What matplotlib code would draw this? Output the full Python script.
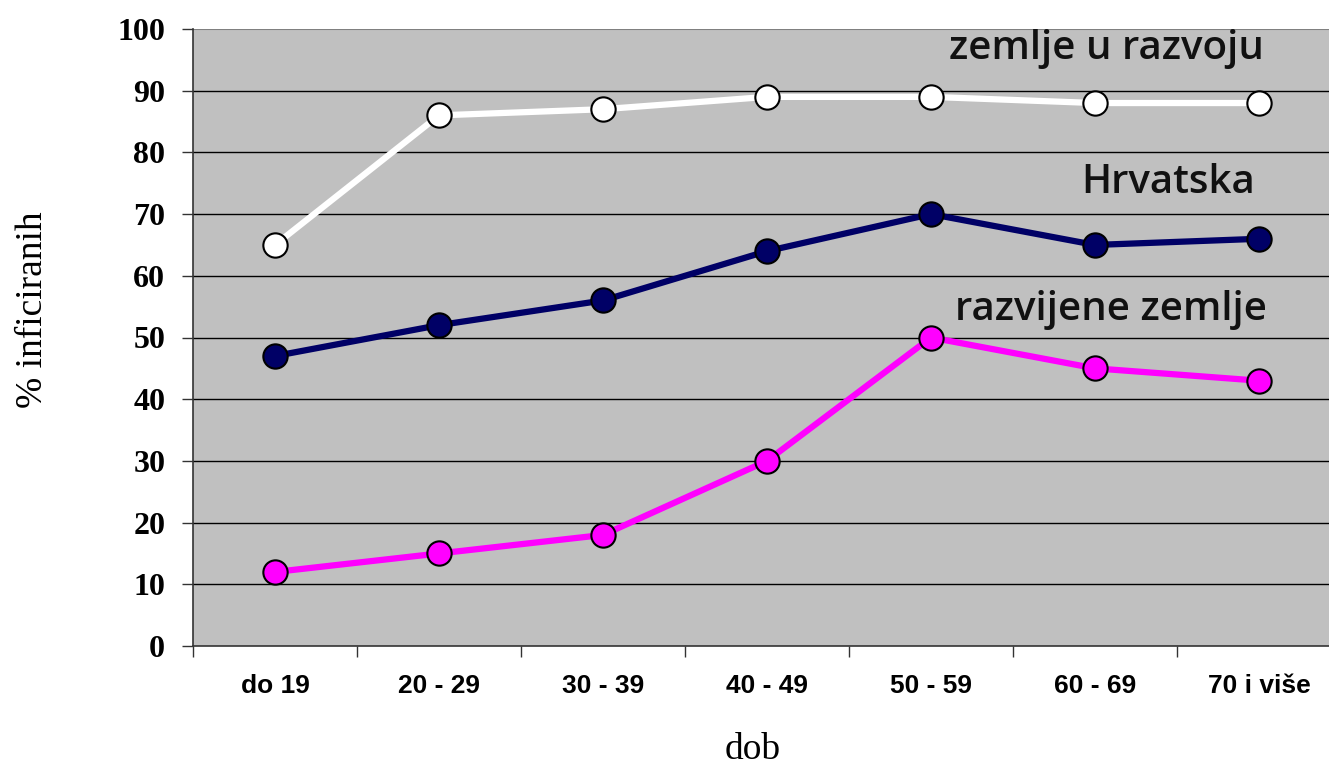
import matplotlib
matplotlib.use("Agg")
import matplotlib.pyplot as plt

categories = ["do 19", "20 - 29", "30 - 39", "40 - 49", "50 - 59", "60 - 69", "70 i više"]
razvoj = [65, 86, 87, 89, 89, 88, 88]
hrvatska = [47, 52, 56, 64, 70, 65, 66]
razvijene = [12, 15, 18, 30, 50, 45, 43]
y_ticks = list(range(0, 101, 10))

W, H = 1329, 767
fig = plt.figure(figsize=(W / 100, H / 100), dpi=100)
ax = fig.add_axes([193 / W, (H - 646) / H, 1148 / W, 617 / H])
ax.set_facecolor("#C0C0C0")

x = list(range(len(categories)))
ax.set_xlim(-0.5, len(categories) - 0.5)
ax.set_ylim(0, 100)

for yv in y_ticks[1:-1]:
    ax.axhline(yv, color="black", lw=1.0, zorder=1)

series = [(razvoj, "white"), (hrvatska, "#000066"), (razvijene, "#FF00FF")]
for vals, col in series:
    ax.plot(x, vals, color=col, lw=4.5, marker="o", markersize=17.5,
            markerfacecolor=col, markeredgecolor="black", markeredgewidth=1.5,
            zorder=3, clip_on=False)

ax.set_yticks(y_ticks)
ax.set_yticklabels([str(v) for v in y_ticks], fontfamily="Liberation Serif",
                   fontweight="bold", fontsize=23)
ax.tick_params(axis="y", direction="out", length=8, width=1, color="#333333", pad=12)

ax.set_xticks([i - 0.5 for i in range(len(categories) + 1)])
ax.set_xticklabels([])
ax.set_xticks(x, minor=True)
ax.set_xticklabels(categories, minor=True, fontfamily="Liberation Sans",
                   fontweight="bold", fontsize=19)
ax.tick_params(axis="x", which="major", direction="out", length=8, width=1, color="#333333")
ax.tick_params(axis="x", which="minor", length=0, pad=20)

for s in ["top", "right"]:
    ax.spines[s].set_visible(False)
ax.spines["left"].set_color("#333333")
ax.spines["bottom"].set_color("#333333")
ax.spines["left"].set_linewidth(1.2)
ax.spines["bottom"].set_linewidth(1.2)
ax.axhline(100, color="#808080", lw=1.5, zorder=1)

ann_kw = dict(fontfamily="Open Sans", fontsize=29, fontweight="semibold",
              ha="center", va="center", color="#111111")
ax.text(5.07, 96.8, "zemlje u razvoju", **ann_kw)
ax.text(5.445, 75, "Hrvatska", **ann_kw)
ax.text(5.10, 54.4, "razvijene zemlje", **ann_kw)

fig.text(33 / W, 1 - 310 / H, "% inficiranih", rotation=90, fontfamily="Liberation Serif",
         fontsize=27, ha="center", va="center")
fig.text(753 / W, 1 - 750 / H, "dob", fontfamily="Liberation Serif",
         fontsize=27, ha="center", va="center")

fig.savefig("out.png", dpi=100)
